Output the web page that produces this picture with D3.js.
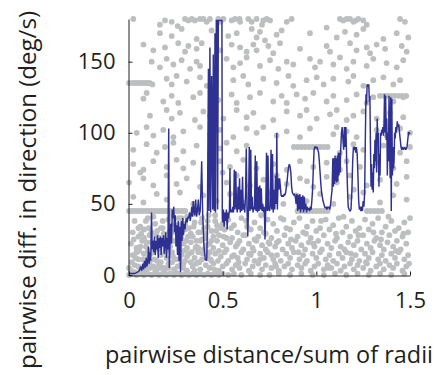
<!DOCTYPE html>
<html>
<head>
<meta charset="utf-8">
<script src="https://cdn.jsdelivr.net/npm/d3@7"></script>
<style>
  html, body { margin: 0; padding: 0; background: #fff; }
  svg { display: block; }
  text { font-family: "Open Sans", sans-serif; fill: #231f20; }
</style>
</head>
<body>
<svg id="chart" width="440" height="375"></svg>
<script>
// Axis ticks
const xTicks = [0, 0.5, 1, 1.5];
const xTickLabels = ["0", "0.5", "1", "1.5"];
const yTicks = [0, 50, 100, 150];
const yTickLabels = ["0", "50", "100", "150"];
const xTitle = "pairwise distance/sum of radii";
const yTitle = "pairwise diff. in direction (deg/s)";

// Individual pairs: [distance / sum of radii, direction difference in deg/s]
const pairsUpper = [
  [.023,180],[.165,176],[.192,179],[.228,178],[.299,180],[.317,179],[.335,180],[.352,179],[.379,180],[.397,180],
  [.415,178],[.432,180],[.477,180],[.489,178],[.504,180],[.548,179],[.566,180],[.593,178],[.637,180],[.655,178],
  [.681,180],[.717,179],[.735,180],[.753,179],[.842,178],[.868,180],[1.126,180],[1.144,179],[1.162,180],[1.198,178],
  [1.224,180],[1.251,179],[1.269,176],[1.447,180],[1.473,178],[.26,175],[.59,180],[1.18,180],[1.21,179],[.71,176],
  [.165,170],[.228,168],[.281,173],[.361,166],[.441,172],[.530,168],[.575,170],[.655,173],[.681,167],[.699,171],
  [.726,165],[.788,169],[.815,172],[.966,170],[1.055,174],[1.109,167],[1.153,171],[1.215,169],[1.251,173],[1.358,166],
  [1.429,170],[1.491,167],
  [.077,162],[.13,158],[.192,160],[.263,163],[.299,157],[.317,161],[.361,159],[.388,163],[.486,158],[.548,162],
  [.593,160],[.628,157],[.664,162],[.681,158],[.744,161],[.77,156],[.806,163],[.913,159],[1.055,161],[1.073,157],
  [1.18,163],[1.215,158],[1.269,160],[1.287,156],[1.322,162],[1.367,159],[1.456,161],[1.482,157],
  [.121,150],[.165,146],[.201,152],[.237,148],[.281,151],[.326,145],[.361,150],[.379,147],[.521,152],[.557,146],
  [.593,149],[.628,153],[.699,147],[.753,151],[.797,145],[.842,150],[.877,148],[.966,152],[.993,146],[1.02,150],
  [1.091,148],[1.126,153],[1.162,145],[1.198,150],[1.269,147],[1.304,152],[1.375,149],[1.429,146],[1.464,151],
  [0,135],[.02,135],[.035,135],[.05,135],[.065,135],[.08,135],[.095,135],[.11,135],[.125,134],
  [.201,138],[.228,134],[.254,140],[.308,136],[.379,139],[.415,133],[.557,137],[.61,140],[.637,134],[.717,138],
  [.788,135],[.851,140],[.877,133],[.948,137],[1.002,139],[1.039,134],[1.091,138],[1.171,136],[1.198,140],[1.251,133],
  [1.304,137],[1.358,139],[1.411,134],[1.447,137],
  [1.34,126],[1.36,126],[1.38,126],[1.40,126],[1.42,126],[1.44,126],[1.46,126],[1.48,126],
  [.077,124],[.094,128],[.183,122],[.228,126],[.263,121],[.343,125],[.379,128],[.477,123],[.548,127],[.575,121],
  [.646,125],[.699,128],[.77,122],[.815,126],[.842,121],[.895,127],[.94,124],[.984,128],[1.055,122],[1.091,126],
  [1.162,123],[1.215,127],[1.269,121],[1.304,125],[1.411,122],[1.464,125],
  [.112,112],[.201,116],[.228,110],[.272,114],[.352,109],[.397,115],[.432,112],[.504,110],[.575,116],[.628,111],
  [.664,114],[.77,109],[.842,115],[.913,112],[.948,116],[1.002,110],[1.073,113],[1.109,116],[1.162,109],[1.198,112],
  [1.251,115],[1.322,110],[1.393,114],[1.464,111],
  [.041,100],[.094,104],[.13,98],[.183,102],[.237,97],[.29,101],[.379,104],[.432,99],[.486,102],[.557,97],
  [.628,103],[.681,100],[.717,104],[.788,98],[.842,101],[.913,97],[.966,103],[1.091,99],[1.109,104],[1.162,101],
  [1.215,97],[1.322,102],[1.375,98],[1.447,103],[1.5,100]
];

const pairsMiddle = [
  [.023,88],[.094,92],[.148,86],[.192,90],[.237,93],[.29,87],[.361,91],[.432,85],[.486,89],[.521,93],
  [.575,87],[.628,91],[.88,90],[.9,90],[.92,90],[.94,90],[.96,90],[.98,90],[1.0,90],[1.02,90],
  [1.04,90],[1.06,90],[1.126,86],[1.198,92],[1.251,88],[1.358,91],[1.447,86],[1.5,90],
  [.023,78],[.077,74],[.13,80],[.201,76],[.254,81],[.29,75],[.343,79],[.432,74],[.486,80],[.539,76],
  [.61,81],[.681,75],[.77,78],[.842,74],[.913,80],[.984,76],[1.055,79],[1.126,74],[1.162,80],[1.233,76],
  [1.322,79],[1.411,75],[1.482,80],
  [0,65],[.077,68],[.13,63],[.201,70],[.254,64],[.308,68],[.379,62],[.45,69],[.521,65],[.575,70],
  [.646,63],[.717,67],[.788,70],[.842,64],[.913,68],[.984,62],[1.055,69],[1.109,65],[1.18,70],[1.269,63],
  [1.34,67],[1.429,64],[1.482,69],[.06,72],[.5,72],[.95,66],[1.2,60],
  [.023,55],[.077,51],[.148,57],[.201,53],[.272,58],[.343,50],[.397,56],[.468,52],[.539,57],[.61,51],
  [.681,55],[.753,58],[.824,50],[.895,56],[.948,52],[1.02,57],[1.091,50],[1.18,55],[1.251,58],[1.34,51],
  [1.411,56],[1.482,53],
  [0,45],[.015,45],[.03,45],[.045,45],[.06,45],[.075,45],[.09,45],[.105,45],[.12,45],[.135,45],
  [.15,45],[.165,45],[.18,45],[.195,45],[.21,45],[.225,45],[.24,45],[.255,45],[.27,45],[.285,45],[.30,45],
  [.9,45],[.92,45],[.94,45],[.96,45],[.98,45],[1.0,45],[1.02,45],[1.04,45],[1.06,45],
  [1.27,45],[1.29,45],[1.31,45],[1.33,45],[1.35,45]
];

const pairsLower = [
  [.03,38],[.06,34],[.10,40],[.14,36],[.17,33],[.21,39],[.25,35],[.28,40],[.32,33],[.35,37],[.39,40],[.42,34],
  [.46,38],[.49,33],[.53,39],[.56,35],[.60,40],[.63,34],[.67,37],[.70,33],[.74,39],[.77,36],[.81,40],[.84,33],
  [.88,37],[.91,40],[.95,34],[.98,38],[1.02,33],[1.05,39],[1.09,35],[1.12,40],[1.16,34],[1.19,38],[1.23,33],
  [1.26,39],[1.30,36],[1.33,40],[1.37,34],[1.40,38],[1.44,33],[1.47,37],[1.50,40],
  [.02,30],[.05,27],[.08,32],[.11,28],[.15,31],[.19,26],[.23,30],[.26,28],[.30,32],[.34,27],[.37,30],[.41,26],
  [.44,31],[.48,28],[.51,32],[.55,26],[.58,30],[.62,28],[.65,32],[.69,27],[.72,30],[.76,26],[.79,31],[.83,28],
  [.86,32],[.90,27],[.93,30],[.97,26],[1.00,31],[1.04,28],[1.07,32],[1.11,26],[1.14,30],[1.18,27],[1.21,31],
  [1.25,28],[1.28,32],[1.32,26],[1.35,30],[1.39,28],[1.42,31],[1.46,27],[1.49,30],
  [.01,22],[.04,19],[.07,24],[.09,20],[.12,23],[.16,18],[.18,22],[.22,20],[.24,24],[.27,18],[.29,22],[.31,19],
  [.33,23],[.36,20],[.38,24],[.40,18],[.43,22],[.45,19],[.47,24],[.50,21],[.52,18],[.54,23],[.57,20],[.59,24],
  [.61,18],[.64,22],[.66,19],[.68,24],[.71,21],[.73,18],[.75,22],[.78,20],[.80,24],[.82,18],[.85,22],[.87,19],
  [.89,24],[.92,21],[.94,18],[.96,23],[.99,20],[1.01,24],[1.03,18],[1.06,22],[1.08,19],[1.10,24],[1.13,20],
  [1.15,18],[1.17,23],[1.20,21],[1.22,24],[1.24,18],[1.27,22],[1.29,19],[1.31,24],[1.34,21],[1.36,18],[1.38,23],
  [1.41,20],[1.43,24],[1.45,18],[1.48,22],
  [.02,14],[.05,11],[.08,15],[.10,12],[.13,16],[.15,10],[.17,14],[.20,12],[.23,16],[.25,11],[.28,14],[.30,10],
  [.32,15],[.35,12],[.37,16],[.39,11],[.42,14],[.44,10],[.46,15],[.49,13],[.51,16],[.53,10],[.56,14],[.58,12],
  [.60,16],[.63,11],[.65,14],[.67,10],[.70,15],[.72,12],[.74,16],[.77,11],[.79,14],[.81,10],[.84,15],[.86,12],
  [.88,16],[.91,11],[.93,14],[.95,10],[.98,15],[1.00,12],[1.02,16],[1.05,11],[1.07,14],[1.09,10],[1.12,15],
  [1.14,12],[1.16,16],[1.19,11],[1.21,14],[1.23,10],[1.26,15],[1.28,12],[1.30,16],[1.33,11],[1.35,14],[1.37,10],
  [1.40,15],[1.42,12],[1.44,16],[1.47,11],[1.49,14],
  [.00,5],[.03,7],[.06,4],[.09,8],[.11,5],[.14,3],[.16,7],[.19,5],[.21,8],[.24,4],[.26,6],[.29,8],[.31,3],
  [.34,6],[.36,8],[.38,4],[.41,7],[.43,5],[.45,8],[.48,3],[.50,6],[.52,8],[.55,4],[.57,7],[.59,5],[.62,8],
  [.64,3],[.66,6],[.69,8],[.71,4],[.73,7],[.76,5],[.78,8],[.80,3],[.83,6],[.85,8],[.87,4],[.90,7],[.92,5],
  [.94,8],[.97,3],[.99,6],[1.01,8],[1.04,4],[1.06,7],[1.08,5],[1.11,8],[1.13,3],[1.15,6],[1.18,8],[1.20,4],
  [1.22,7],[1.25,5],[1.27,8],[1.29,3],[1.32,6],[1.34,8],[1.36,4],[1.39,7],[1.41,5],[1.43,8],[1.46,3],[1.48,6],
  [.00,0],[.02,1],[.04,0],[.06,1],[.08,0],[.10,1],[.12,0],[.14,1],[.16,0],[.18,1],[.20,0],[.22,1],[.24,0],
  [.26,1],[.28,0],[.30,1],[.32,0],[.34,1],[.36,0],[.38,1],[.40,0],[.42,1],[.44,0],[.46,1],[.48,0],[.50,1],
  [.53,0],[.56,1],[.60,0],[.65,1],[.70,0],[.75,0],[.80,1],[.86,0],[.92,1],[.98,0],[1.04,0],[1.10,1],[1.16,0],
  [1.22,1],[1.28,0],[1.34,1],[1.40,0],[1.47,1],
  [.01,3],[.03,2],[.05,6],[.07,2],[.09,3],[.11,9],[.13,6],[.15,4],[.17,9],[.19,2],[.21,5],[.23,9],[.25,2],
  [.27,11],[.29,5],[.31,13],[.33,9],[.35,3],[.37,19],[.39,25],[.41,29],[.43,16],[.45,27],[.47,35],[.04,16],
  [.06,20],[.08,26],[.10,17],[.12,30],[.14,21],[.16,26],[.18,33],[.20,18],[.22,27],[.24,31],[.26,22],[.28,26],
  [.30,36],[.33,29],[.36,24],[.40,33],[.44,24],[.48,17],[.05,33],[.09,38],[.13,41],[.18,38],[.23,42],[.27,35],
  [.31,41],[.35,43],[.38,30],[.42,38],[.46,42],[.50,36],[.52,26],[.55,13],[.58,22],[.61,28],[.64,15],[.67,25],
  [.70,11],[.73,29],[.76,14],[.79,23],
  [.015,9],[.035,12],[.055,17],[.075,11],[.095,23],[.115,15],[.135,11],[.155,19],[.175,5],[.195,16],[.215,30],
  [.235,13],[.255,24],[.275,7],[.295,17],[.315,27],[.335,16],[.355,19],[.375,9],[.395,15],[.415,21],[.435,11],
  [.455,4],[.475,10],[.025,25],[.065,29],[.105,33],[.145,28],[.185,29],[.225,35],[.265,40],[.305,24],[.345,34],
  [.385,37],[.425,42],[.465,31],[.505,27],[.545,33],[.585,9],[.625,38],[.665,17],[.705,42],[.745,23],[.785,6],
  [.825,39],[.865,25],[.905,16],[.945,29],[.985,22],[1.025,38],[1.065,5],[1.105,29],[1.145,41],[1.185,15],
  [1.225,28],[1.265,9],[1.305,30],[1.345,25],[1.385,41],[1.425,17],[1.465,29],[1.495,8]
];

// Running estimate of direction difference along distance: [distance, deg/s]
const trend = [
  [0,1],[.03,1],[.045,2],[.055,3],[.062,6],[.068,3],[.073,8],[.078,4],[.083,10],[.088,5],
  [.092,12],[.096,6],[.100,9],[.104,20],[.108,8],[.112,16],[.116,10],[.120,44],[.124,18],[.128,24],
  [.132,16],[.136,27],[.140,14],[.144,24],[.148,18],[.152,28],[.156,12],[.160,26],[.164,19],[.168,27],
  [.172,14],[.176,26],[.180,20],[.184,28],[.188,15],[.192,22],[.196,30],[.200,12],[.204,26],[.208,18],
  [.212,103],[.215,5],[.219,24],[.223,36],[.227,22],[.231,46],[.235,40],[.239,48],[.243,30],[.247,42],
  [.251,20],[.255,35],[.259,14],[.263,38],[.267,10],[.271,34],[.275,2],[.279,38],[.283,24],[.287,40],
  [.291,28],[.295,36],[.299,32],[.303,38],[.307,40],[.311,37],[.315,41],[.319,40],[.323,44],[.327,38],
  [.331,42],[.335,48],[.339,41],[.343,52],[.347,45],[.351,42],[.356,53],[.361,41],[.366,46],[.370,53],
  [.375,42],[.380,45],[.384,60],[.388,80],[.393,45],[.400,20],[.407,11],[.415,10],[.418,30],
  [.424,145],[.427,45],[.432,160],[.436,44],[.441,140],[.447,46],[.450,155],[.455,45],[.459,170],[.462,44],
  [.466,179],[.470,179],[.473,46],[.477,179],[.496,179],[.498,40],
  [.500,37],[.504,46],[.508,34],[.512,44],[.516,38],[.520,46],[.524,32],[.528,44],[.532,40],[.536,46],
  [.539,75],[.542,44],[.546,46],[.550,44],[.554,48],[.558,44],[.562,74],[.566,46],[.570,73],[.574,48],
  [.578,44],[.582,62],[.586,46],[.590,68],[.594,44],[.598,60],[.602,45],[.606,69],[.610,46],[.614,50],
  [.618,44],[.622,56],[.626,89],[.630,46],[.634,27],[.638,48],[.642,90],[.646,45],[.650,88],[.654,46],
  [.658,55],[.662,44],[.666,48],[.670,46],[.674,84],[.678,45],[.682,80],[.686,44],[.690,62],[.694,45],
  [.698,63],[.702,46],[.706,61],[.710,45],[.714,50],[.718,44],[.722,48],[.726,25],[.730,46],[.734,86],
  [.738,45],[.742,84],[.746,46],[.750,45],[.754,48],[.758,88],[.762,46],[.766,85],[.770,44],[.774,60],
  [.778,46],[.782,70],[.786,50],[.789,100],[.792,46],[.796,68],[.800,60],[.804,68],[.808,62],[.812,56],
  [.816,55],[.820,56],[.824,55],[.828,57],[.832,56],[.836,58],[.840,62],[.844,66],[.848,72],[.852,76],
  [.856,78],[.860,76],[.864,72],[.868,62],[.872,58],[.876,57],[.880,56],[.884,57],[.888,55],[.892,50],
  [.896,57],[.900,45],[.904,56],[.908,46],[.912,57],[.916,44],[.920,55],[.924,46],[.928,56],[.932,44],
  [.936,55],[.940,46],[.944,50],[.948,44],[.952,48],[.956,46],[.960,47],[.964,45],[.968,48],[.972,46],
  [.976,52],[.980,60],[.984,75],[.988,88],[.992,90],[.996,90],[1.000,89],[1.004,90],[1.008,88],[1.012,86],
  [1.016,80],[1.020,72],[1.024,64],[1.028,58],[1.032,55],[1.036,52],[1.040,50],[1.044,48],[1.048,47],[1.052,48],
  [1.056,46],[1.060,48],[1.064,47],[1.068,48],[1.072,46],[1.076,50],[1.080,55],[1.084,60],[1.088,82],[1.091,62],
  [1.094,82],[1.097,64],[1.100,84],[1.103,66],[1.106,82],[1.109,65],[1.112,84],[1.115,66],[1.118,86],[1.121,70],
  [1.124,86],[1.127,72],[1.130,88],[1.134,100],[1.138,104],[1.142,95],[1.146,88],[1.150,104],[1.154,90],[1.158,104],
  [1.162,80],[1.166,62],[1.170,48],[1.175,46],[1.180,45],[1.185,46],[1.190,60],[1.194,80],[1.198,90],[1.202,88],
  [1.206,90],[1.210,86],[1.214,90],[1.218,85],[1.222,70],[1.226,52],[1.230,46],[1.234,48],[1.238,45],[1.242,48],
  [1.246,45],[1.250,52],[1.254,48],[1.258,58],[1.262,100],[1.265,127],[1.268,120],[1.271,134],[1.276,133],[1.280,134],
  [1.283,122],[1.286,126],[1.289,90],[1.292,62],[1.295,78],[1.298,60],[1.301,72],[1.304,58],[1.307,85],[1.310,75],
  [1.313,95],[1.316,80],[1.319,100],[1.322,72],[1.325,110],[1.328,96],[1.331,100],[1.334,62],[1.337,85],[1.340,70],
  [1.343,100],[1.346,98],[1.349,102],[1.352,100],[1.355,104],[1.358,98],[1.361,106],[1.364,127],[1.367,100],[1.370,126],
  [1.373,95],[1.376,110],[1.379,70],[1.382,100],[1.385,80],[1.388,126],[1.391,90],[1.394,68],[1.397,125],[1.400,45],
  [1.403,124],[1.406,70],[1.409,90],[1.412,75],[1.415,80],[1.418,100],[1.421,96],[1.424,104],[1.428,100],[1.432,108],
  [1.436,104],[1.440,106],[1.444,100],[1.448,95],[1.452,90],[1.456,88],[1.460,90],[1.466,88],[1.472,90],[1.478,88],
  [1.484,90],[1.488,95],[1.492,100],[1.496,100],[1.500,99]
];

const svg = d3.select("#chart");
const x = d3.scaleLinear().domain([0, 1.5]).range([129, 410]);
const y = d3.scaleLinear().domain([0, 180]).range([275, 19]);

// Scatter of all pairs
const pairs = pairsUpper.concat(pairsMiddle, pairsLower);
svg.append("g").selectAll("circle").data(pairs).join("circle")
  .attr("cx", d => x(d[0]))
  .attr("cy", d => y(d[1]))
  .attr("r", 2.9)
  .attr("fill", "#bcbec0");

// Trend line
svg.append("path")
  .datum(trend)
  .attr("fill", "none")
  .attr("stroke", "#2e3192")
  .attr("stroke-width", 1.45)
  .attr("stroke-linejoin", "miter")
  .attr("stroke-miterlimit", 2)
  .attr("d", d3.line().x(d => x(d[0])).y(d => y(d[1])));

// Axes with inward ticks
const xAxis = svg.append("g").attr("transform", "translate(0,275.5)")
  .call(d3.axisBottom(x).tickValues(xTicks).tickFormat((d, i) => xTickLabels[i])
    .tickSizeInner(-4).tickSizeOuter(0).tickPadding(17));
const yAxis = svg.append("g").attr("transform", "translate(128.5,0)")
  .call(d3.axisLeft(y).tickValues(yTicks).tickFormat((d, i) => yTickLabels[i])
    .tickSizeInner(-4).tickSizeOuter(0).tickPadding(13));

[xAxis, yAxis].forEach(g => {
  g.select(".domain").attr("stroke", "#231f20").attr("stroke-width", 1);
  g.selectAll(".tick line").attr("stroke", "#231f20");
  g.selectAll(".tick text")
    .attr("font-family", "'Open Sans', sans-serif")
    .attr("font-size", 22)
    .attr("fill", "#231f20");
});

// Axis titles
svg.append("text")
  .attr("x", 269).attr("y", 363)
  .attr("text-anchor", "middle")
  .attr("font-size", 23)
  .attr("textLength", 328).attr("lengthAdjust", "spacingAndGlyphs")
  .text(xTitle);

svg.append("text")
  .attr("transform", "translate(36,190) rotate(-90)")
  .attr("text-anchor", "middle")
  .attr("font-size", 23)
  .attr("textLength", 358).attr("lengthAdjust", "spacingAndGlyphs")
  .text(yTitle);
</script>
</body>
</html>
